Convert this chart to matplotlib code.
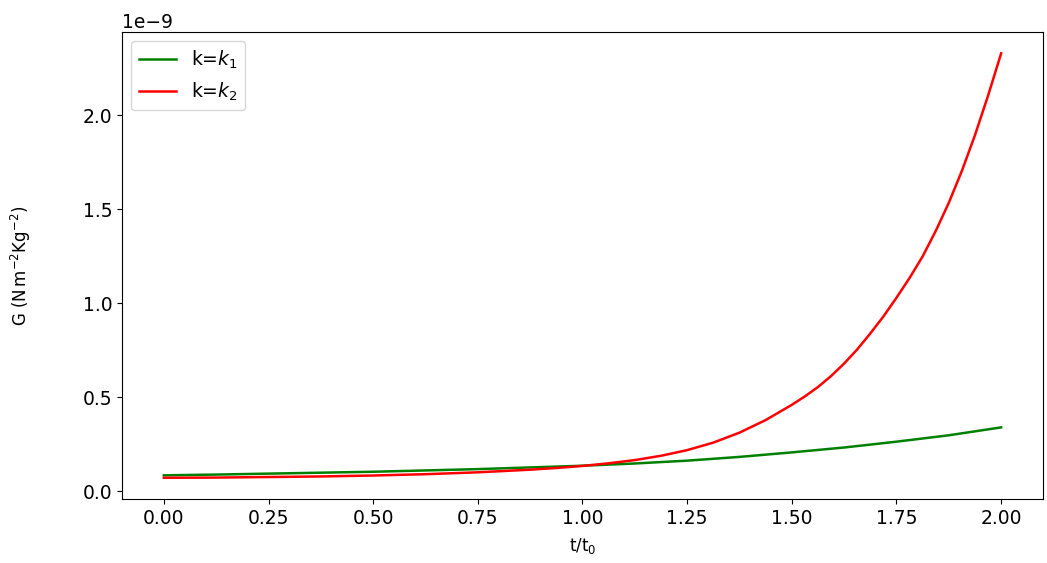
import numpy as np
import matplotlib
matplotlib.use("Agg")
import matplotlib.pyplot as plt

# values, in units of 1e-9
t_green = [0.0, 0.125, 0.25, 0.375, 0.5, 0.625, 0.75, 0.875, 1.0,
           1.125, 1.25, 1.375, 1.5, 1.625, 1.75, 1.875, 2.0]
g_green = [0.085, 0.089, 0.094, 0.099, 0.104, 0.111, 0.118, 0.127, 0.136,
           0.148, 0.163, 0.183, 0.207, 0.233, 0.264, 0.298, 0.340]

t_red = [0.0, 0.125, 0.25, 0.375, 0.5, 0.625, 0.75, 0.875, 0.9375, 1.0,
         1.0625, 1.125, 1.1875, 1.25, 1.3125, 1.375, 1.4375, 1.5,
         1.53125, 1.5625, 1.59375, 1.625, 1.65625, 1.6875, 1.71875, 1.75,
         1.78125, 1.8125, 1.84375, 1.875, 1.90625, 1.9375, 1.96875, 2.0]
g_red = [0.072, 0.073, 0.076, 0.079, 0.084, 0.091, 0.101, 0.115, 0.124, 0.135,
         0.149, 0.166, 0.189, 0.219, 0.259, 0.312, 0.379, 0.460,
         0.505, 0.555, 0.613, 0.680, 0.755, 0.840, 0.930, 1.030,
         1.135, 1.250, 1.385, 1.535, 1.705, 1.895, 2.105, 2.330]

labels = [r"k=$k_1$", r"k=$k_2$"]

plt.rcParams['font.size'] = 13.5

fig = plt.figure(figsize=(10.47, 5.63), dpi=100)
ax = fig.add_axes([0.1165, 0.1137, 0.8797, 0.8293])

ax.plot(t_green, np.array(g_green) * 1e-9, color="green", lw=1.8, label=labels[0])
ax.plot(t_red, np.array(g_red) * 1e-9, color="red", lw=1.8, label=labels[1])

ax.set_xticks([0.0, 0.25, 0.5, 0.75, 1.0, 1.25, 1.5, 1.75, 2.0])
ax.set_xlabel(r"t/t$_0$", fontsize=12, labelpad=6)
ax.set_ylabel(r"G ($\mathrm{N\,m^{-2}Kg^{-2}}$)", fontsize=12)
ax.yaxis.set_label_coords(-0.097, 0.5)
ax.legend(loc="upper left")

fig.savefig("out.png", dpi=100)
